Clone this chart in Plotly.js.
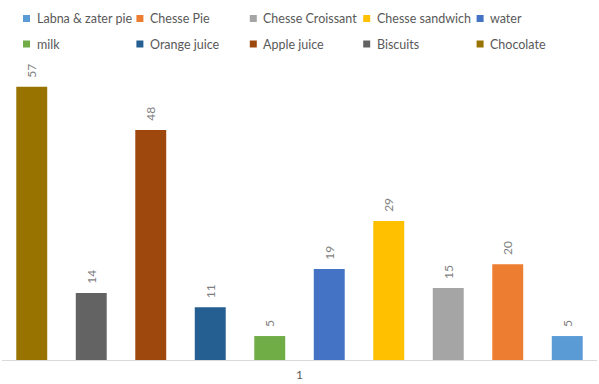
<!DOCTYPE html>
<html><head><meta charset="utf-8">
<script src="https://cdn.plot.ly/plotly-3.0.1.min.js"></script>
<style>html,body{margin:0;padding:0;background:#fff}#chart{width:599px;height:384px}</style>
</head><body><div id="chart"></div>
<script>
// Series, in drawing order (left to right)
var seriesNames = ["Chocolate","Biscuits","Apple juice","Orange juice","milk","water","Chesse sandwich","Chesse Croissant","Chesse Pie","Labna & zater pie"];
var seriesValues = [57,14,48,11,5,19,29,15,20,5];
var seriesColors = ["#997300","#636363","#9E480E","#255E91","#70AD47","#4472C4","#FFC000","#A5A5A5","#ED7D31","#5B9BD5"];
var categories = ["1"];
// legend rows (as in the reference)
var legendRow1 = ["Labna & zater pie","Chesse Pie","Chesse Croissant","Chesse sandwich","water"];
var legendRow2 = ["milk","Orange juice","Apple juice","Biscuits","Chocolate"];

var W = 599, H = 384, ML = 2, MR = 2, MT = 60, MB = 24;
var PW = W - ML - MR, PH = H - MT - MB;
function px2x(px){ return (px - ML) / PW; }
function py2y(py){ return 1 + (MT - py) / PH; }

var traces = seriesNames.map(function(name,i){
  return {
    type:"bar", name:name, x:categories, y:[seriesValues[i]],
    marker:{color:seriesColors[i]},
    text:["\u00a0\u00a0" + String(seriesValues[i])], textposition:"outside", textangle:-90,
    textfont:{family:"Lato, sans-serif", size:12, color:"#7f7f7f"},
    cliponaxis:false, showlegend:false,
    hoverinfo:"name+y"
  };
});

// Excel-style legend: small squares + labels, 5 columns x 2 rows
var shapes = [], annotations = [];
[legendRow1, legendRow2].forEach(function(row, r){
  var cy = r === 0 ? 18.5 : 44;
  row.forEach(function(name, c){
    var sx = 23 + c * 113.4;
    var col = seriesColors[seriesNames.indexOf(name)];
    shapes.push({type:"rect", xref:"paper", yref:"paper",
      x0:px2x(sx), x1:px2x(sx+7), y0:py2y(cy+3.5), y1:py2y(cy-3.5),
      fillcolor:col, line:{width:0}});
    annotations.push({xref:"paper", yref:"paper", x:px2x(sx+11.5), y:py2y(cy),
      xanchor:"left", yanchor:"middle", showarrow:false, text:name,
      font:{family:"Lato, sans-serif", size:12.5, color:"#595959"}});
  });
});

var layout = {
  width:W, height:H,
  margin:{l:ML, r:MR, t:MT, b:MB, pad:0},
  paper_bgcolor:"#fff", plot_bgcolor:"#fff",
  barmode:"group", bargap:0, bargroupgap:0.48,
  font:{family:"Lato, sans-serif", color:"#595959"},
  xaxis:{type:"category", showline:true, linecolor:"#d9d9d9", linewidth:1,
    ticks:"", showgrid:false, zeroline:false,
    tickfont:{family:"Lato, sans-serif", size:12, color:"#595959"}, ticklabelstandoff:4},
  yaxis:{range:[0,62.6], visible:false, showgrid:false, zeroline:false},
  showlegend:false,
  shapes:shapes, annotations:annotations
};

Plotly.newPlot("chart", traces, layout, {displayModeBar:false, staticPlot:true});
</script></body></html>
